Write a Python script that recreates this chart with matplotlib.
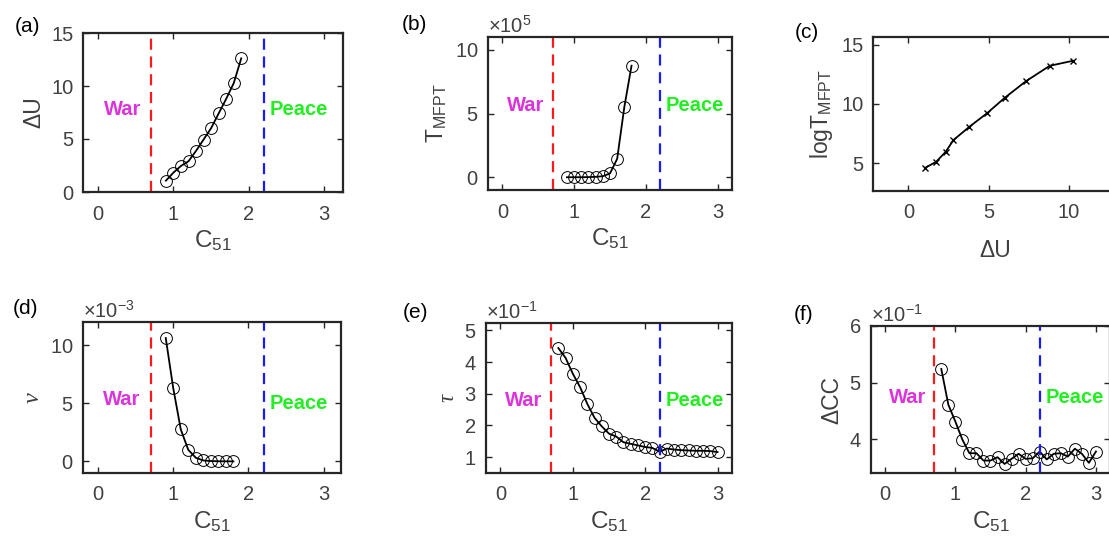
import matplotlib
matplotlib.use("Agg")
import matplotlib.pyplot as plt
import numpy as np

plt.rcParams['font.family'] = ['Liberation Sans', 'DejaVu Sans']
plt.rcParams['mathtext.fontset'] = 'custom'
plt.rcParams['mathtext.rm'] = 'Liberation Sans'
plt.rcParams['mathtext.it'] = 'Liberation Sans:italic'
plt.rcParams['mathtext.bf'] = 'Liberation Sans:bold'

# ---------------- data ----------------
c51_a = [0.9, 1.0, 1.1, 1.2, 1.3, 1.4, 1.5, 1.6, 1.7, 1.8, 1.9]
delta_u = [1.07, 1.83, 2.46, 2.90, 3.88, 4.95, 6.02, 7.41, 8.79, 10.27, 12.61]

c51_b = [0.9, 1.0, 1.1, 1.2, 1.3, 1.4, 1.5, 1.6, 1.7, 1.8]
t_mfpt = [90, 170, 400, 1000, 3300, 8000, 30000, 145000, 552000, 875000]

du_c = [1.04, 1.73, 2.33, 2.81, 3.81, 4.90, 6.00, 7.33, 8.81, 10.25]
log_t = [4.60, 5.11, 5.96, 6.95, 8.08, 9.21, 10.51, 11.92, 13.22, 13.64]

c51_d = [0.9, 1.0, 1.1, 1.2, 1.3, 1.4, 1.5, 1.6, 1.7, 1.8]
nu = [10.62e-3, 6.29e-3, 2.75e-3, 0.99e-3, 0.31e-3, 0.08e-3, 0.03e-3, 0.01e-3, 0.005e-3, 0.002e-3]

c51_e = [0.8, 0.9, 1.0, 1.1, 1.2, 1.3, 1.4, 1.5, 1.6, 1.7, 1.8, 1.9, 2.0,
         2.1, 2.2, 2.3, 2.4, 2.5, 2.6, 2.7, 2.8, 2.9, 3.0]
tau = [0.444, 0.413, 0.363, 0.321, 0.268, 0.224, 0.197, 0.174, 0.165, 0.147,
       0.142, 0.137, 0.132, 0.129, 0.117, 0.127, 0.124, 0.122, 0.121, 0.120,
       0.120, 0.119, 0.116]

c51_f = c51_e
delta_cc = [0.524, 0.461, 0.431, 0.399, 0.375, 0.375, 0.362, 0.362, 0.368, 0.356,
            0.365, 0.374, 0.365, 0.366, 0.378, 0.364, 0.374, 0.375, 0.369, 0.383,
            0.374, 0.358, 0.378]

war_x, peace_x = 0.7, 2.2

W, H = 1109, 541
fig = plt.figure(figsize=(W / 100, H / 100), dpi=100)

def add_axes(l, r, t, b):
    return fig.add_axes([l / W, 1 - b / H, (r - l) / W, (b - t) / H])

GRAY = '#262626'
TICKC = '#404040'
TS = 14.5   # tick label size
LS = 16.5   # axis label size

def style(ax):
    for s in ax.spines.values():
        s.set_color(GRAY)
        s.set_linewidth(1.6)
    ax.tick_params(direction='in', top=True, right=True, length=4, width=1.0,
                   color=GRAY, labelcolor=TICKC, labelsize=TS)
    ax.tick_params(axis='x', pad=9)
    ax.tick_params(axis='y', pad=7)

def regime_lines(ax, war_y, peace_y):
    ax.axvline(war_x, color='#ff1a1a', ls=(0, (5, 3)), lw=1.6)
    ax.axvline(peace_x, color='#1a1aff', ls=(0, (5, 3)), lw=1.6)
    ax.text(0.32, war_y, 'War', color='#dd33dd', fontweight='bold', fontsize=14.5,
            ha='center', va='center')
    ax.text(2.28, peace_y, 'Peace', color='#22ee22', fontweight='bold', fontsize=14.5,
            ha='left', va='center')

def sci(ax, p):
    ax.ticklabel_format(style='sci', axis='y', scilimits=(p, p), useMathText=True)
    ot = ax.yaxis.get_offset_text()
    ot.set_fontsize(TS)
    ot.set_color(TICKC)

line_kw = dict(color='black', lw=1.3, marker='o', mfc='none', mec='black',
               ms=8.5, mew=0.7)

def xlab(ax):
    ax.set_xlabel('C$_{51}$', fontsize=LS + 1, color=TICKC, labelpad=3)

# (a)
ax = add_axes(83, 343, 33, 192)
ax.plot(c51_a, delta_u, **line_kw)
ax.set_xlim(-0.2, 3.25); ax.set_ylim(0, 15)
ax.set_xticks([0, 1, 2, 3]); ax.set_yticks([0, 5, 10, 15])
regime_lines(ax, 7.8, 7.8)
ax.set_ylabel('ΔU', fontsize=LS, color=TICKC)
xlab(ax); style(ax)
fig.text(27 / W, 1 - 27 / H, '(a)', fontsize=15, ha='center', va='center')

# (b)
ax = add_axes(488, 732, 37, 190)
ax.plot(c51_b, t_mfpt, **line_kw)
ax.set_xlim(-0.2, 3.2); ax.set_ylim(-1e5, 11e5)
ax.set_xticks([0, 1, 2, 3]); ax.set_yticks([0, 5e5, 10e5])
regime_lines(ax, 5.65e5, 5.65e5)
ax.set_ylabel('T$_{\\mathrm{MFPT}}$', fontsize=LS, color=TICKC)
xlab(ax); style(ax); sci(ax, 5)
fig.text(414 / W, 1 - 24 / H, '(b)', fontsize=15, ha='center', va='center')

# (c)
ax = add_axes(873, 1117, 37, 191)
ax.plot(du_c, log_t, color='black', lw=1.3, marker='x', ms=5, mew=1.0)
ax.set_xlim(-2.2, 13); ax.set_ylim(2.65, 15.65)
ax.set_xticks([0, 5, 10]); ax.set_yticks([5, 10, 15])
ax.set_ylabel('logT$_{\\mathrm{MFPT}}$', fontsize=LS, color=TICKC)
ax.set_xlabel('ΔU', fontsize=LS, color=TICKC, labelpad=12)
style(ax)
fig.text(807 / W, 1 - 33 / H, '(c)', fontsize=15, ha='center', va='center')

# (d)
ax = add_axes(83, 341, 322, 473)
ax.plot(c51_d, nu, **line_kw)
ax.set_xlim(-0.2, 3.23); ax.set_ylim(-1e-3, 12e-3)
ax.set_xticks([0, 1, 2, 3]); ax.set_yticks([0, 5e-3, 10e-3])
regime_lines(ax, 5.3e-3, 5.0e-3)
ax.set_ylabel('ν', fontsize=LS + 1, color=TICKC, family='Liberation Serif', style='italic')
xlab(ax); style(ax); sci(ax, -3)
fig.text(25 / W, 1 - 309 / H, '(d)', fontsize=15, ha='center', va='center')

# (e)
ax = add_axes(486, 732, 323, 473)
ax.plot(c51_e, tau, **line_kw)
ax.set_xlim(-0.2, 3.2); ax.set_ylim(0.05, 0.523)
ax.set_xticks([0, 1, 2, 3]); ax.set_yticks([0.1, 0.2, 0.3, 0.4, 0.5])
regime_lines(ax, 0.279, 0.279)
ax.set_ylabel('τ', fontsize=LS, color=TICKC, family='Liberation Serif', style='italic')
xlab(ax); style(ax); sci(ax, -1)
fig.text(415 / W, 1 - 313 / H, '(e)', fontsize=15, ha='center', va='center')

# (f)
ax = add_axes(871, 1110, 326, 473)
ax.plot(c51_f, delta_cc, **line_kw)
ax.set_xlim(-0.2, 3.2); ax.set_ylim(0.34, 0.60)
ax.set_xticks([0, 1, 2, 3]); ax.set_yticks([0.4, 0.5, 0.6])
regime_lines(ax, 0.474, 0.474)
ax.set_ylabel('ΔCC', fontsize=LS, color=TICKC)
xlab(ax); style(ax); sci(ax, -1)
fig.text(804 / W, 1 - 315 / H, '(f)', fontsize=15, ha='center', va='center')

fig.savefig('out.png', dpi=100)
